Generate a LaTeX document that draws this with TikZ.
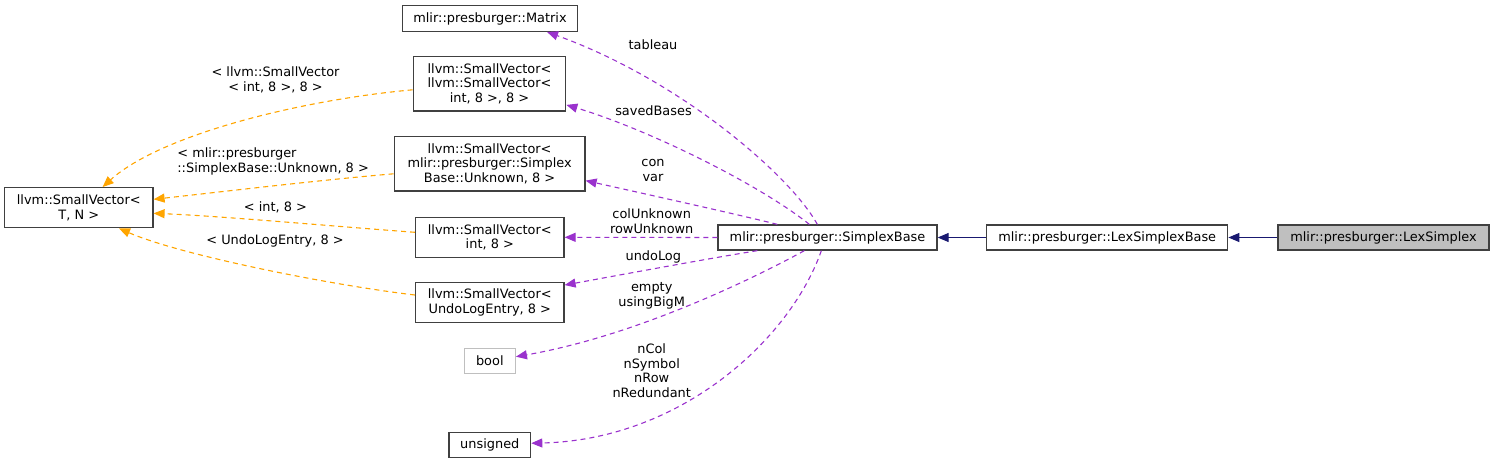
\documentclass[tikz,border=0pt]{standalone}
\usepackage{fontspec}
\setmainfont{DejaVu Sans}
\usetikzlibrary{arrows.meta}
\definecolor{purp}{HTML}{9A32CD}
\definecolor{orng}{HTML}{FFA500}
\definecolor{navy}{HTML}{191970}
\definecolor{boxline}{HTML}{404040}
\tikzset{
  txt/.style={font=\fontsize{12.9}{14.8}\selectfont, align=center, inner sep=0pt},
  cls/.style={txt, draw=boxline, line width=1.3pt, rectangle},
  lbl/.style={txt},
  purpedge/.style={draw=purp, line width=1.1pt, dash pattern=on 5pt off 4pt, -{Triangle[length=11pt,width=9pt,fill=purp]}},
  orngedge/.style={draw=orng, line width=1.1pt, dash pattern=on 5pt off 4pt, -{Triangle[length=11pt,width=9pt,fill=orng]}},
  navyedge/.style={draw=navy, line width=1.1pt, -{Triangle[length=11pt,width=9pt,fill=navy]}},
}
\begin{document}
\begin{tikzpicture}[x=1pt,y=-1pt]
\useasboundingbox (0,0) rectangle (1495,464);
% class nodes
\node[cls, minimum width=174.6pt, minimum height=25.6pt] (mat) at (490,18.5) {mlir::presburger::Matrix};
\node[cls, minimum width=152.4pt, minimum height=54.3pt] (svsv) at (489.5,83.8) {llvm::SmallVector<\\ llvm::SmallVector<\\ int, 8 >, 8 >};
\node[cls, minimum width=190.7pt, minimum height=54.3pt] (svunk) at (489.6,163.8) {llvm::SmallVector<\\ mlir::presburger::Simplex\\ Base::Unknown, 8 >};
\node[cls, minimum width=148.3pt, minimum height=40pt] (svint) at (489.8,237.3) {llvm::SmallVector<\\ int, 8 >};
\node[cls, minimum width=148.3pt, minimum height=40pt] (svundo) at (489.8,302.7) {llvm::SmallVector<\\ UndoLogEntry, 8 >};
\node[cls, draw=black!25, minimum width=51pt, minimum height=25.4pt] (bool) at (489.8,361) {bool};
\node[cls, minimum width=81.7pt, minimum height=25pt] (unsig) at (489.8,445.2) {unsigned};
\node[cls, minimum width=148.3pt, minimum height=40pt] (svtn) at (78.8,207.7) {llvm::SmallVector<\\ T, N >};
\node[cls, minimum width=219pt, minimum height=25pt] (sb) at (827.5,237.5) {mlir::presburger::SimplexBase};
\node[cls, minimum width=241pt, minimum height=25pt] (lsb) at (1107.2,237.5) {mlir::presburger::LexSimplexBase};
\node[cls, fill=black!25, minimum width=211pt, minimum height=25pt] (ls) at (1383.5,237.5) {mlir::presburger::LexSimplex};

% inheritance
\draw[navyedge] (lsb.west) -- (sb.east);
\draw[navyedge] (ls.west) -- (lsb.east);

% member edges (purple)
\draw[purpedge] ([xshift=100pt]sb.north west) .. controls (790,175) and (680,80) .. ([xshift=57pt]mat.south);
\draw[purpedge] ([xshift=92pt]sb.north west) .. controls (760,185) and (650,130) .. ([yshift=6.7pt]svsv.south east);
\draw[purpedge] ([xshift=60pt]sb.north west) .. controls (740,215) and (650,195) .. ([yshift=11pt]svunk.south east);
\draw[purpedge] (sb.west) -- (svint.east);
\draw[purpedge] ([xshift=40pt]sb.south west) .. controls (700,260) and (620,275) .. ([yshift=-3pt]svundo.north east);
\draw[purpedge] ([xshift=87pt]sb.south west) .. controls (760,275) and (640,335) .. ([yshift=4.3pt]bool.east);
\draw[purpedge] ([xshift=104pt]sb.south west) .. controls (790,340) and (680,440) .. ([yshift=2pt]unsig.east);

% template instance edges (orange)
\draw[orngedge] ([yshift=-6pt]svsv.west) .. controls (300,100) and (160,135) .. ([xshift=98.6pt]svtn.north west);
\draw[orngedge] ([yshift=-10pt]svunk.west) .. controls (320,180) and (220,192) .. ([yshift=8.4pt]svtn.east);
\draw[orngedge] ([yshift=5pt]svint.west) .. controls (330,226) and (220,216) .. ([yshift=-5.6pt]svtn.east);
\draw[orngedge] ([yshift=7.7pt]svundo.west) .. controls (330,285) and (180,255) .. ([xshift=115pt]svtn.south west);

% edge labels
\node[lbl] (ltab) at (653,44.3) {tableau};
\node[lbl] (lsav) at (653.5,111) {savedBases};
\node[lbl] (lcon) at (653,170.8) {con\\var};
\node[lbl] (lcol) at (651.7,221.5) {colUnknown\\rowUnknown};
\node[lbl] (lundo) at (653.3,256.7) {undoLog};
\node[lbl] (lemp) at (651.7,296) {empty\\usingBigM};
\node[lbl] (lnc) at (651.7,370.6) {nCol\\nSymbol\\nRow\\nRedundant};
\node[lbl] (osv) at (275.5,80) {< llvm::SmallVector\\< int, 8 >, 8 >};
\node[lbl, align=left] (ounk) at (273.1,161.3) {< mlir::presburger\\::SimplexBase::Unknown, 8 >};
\node[lbl] (oint) at (275.5,207.3) {< int, 8 >};
\node[lbl] (oundo) at (275,240.7) {< UndoLogEntry, 8 >};
\end{tikzpicture}
\end{document}
